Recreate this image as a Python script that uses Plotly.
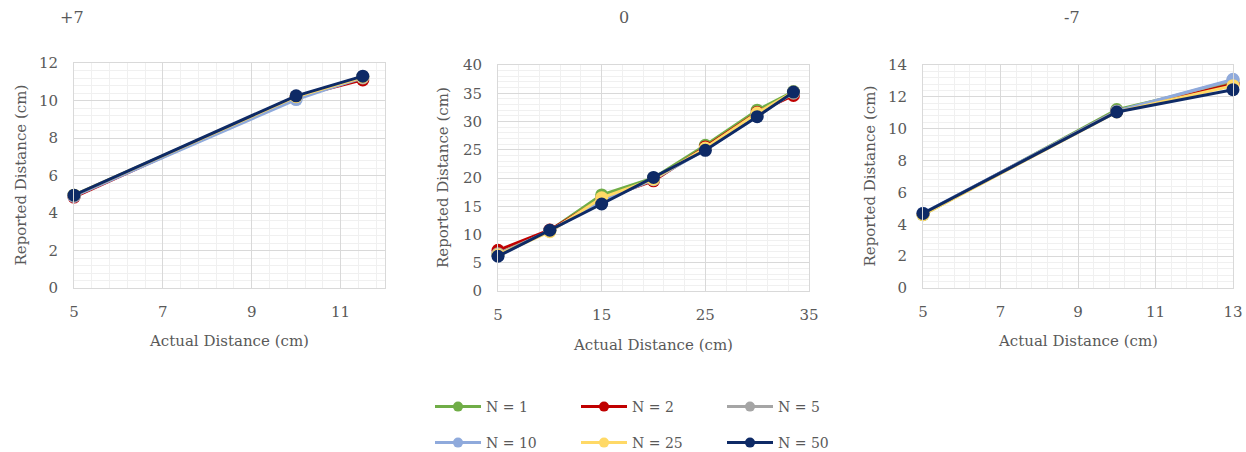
import plotly.graph_objects as go

W, H = 1246, 452

series_names = ["N = 1", "N = 2", "N = 5", "N = 10", "N = 25", "N = 50"]
series_colors = ["#70AD47", "#C00000", "#A5A5A5", "#8FAADC", "#FFD966", "#0E2A66"]

panel_titles = ["+7", "0", "-7"]

x_plus7 = [5, 10, 11.5]
y_plus7 = [
    [4.95, 10.2, 11.25],
    [4.85, 10.2, 11.1],
    [4.9, 10.15, 11.2],
    [4.9, 10.05, 11.25],
    [4.95, 10.2, 11.25],
    [4.95, 10.25, 11.3],
]

x_zero = [5, 10, 15, 20, 25, 30, 33.5]
y_zero = [
    [6.5, 10.7, 17.0, 20.0, 25.8, 32.0, 35.3],
    [7.2, 10.8, 16.3, 19.5, 25.5, 31.6, 34.6],
    [6.6, 10.6, 16.0, 19.7, 25.2, 31.3, 35.0],
    [6.3, 10.7, 15.8, 19.8, 25.0, 31.0, 35.2],
    [6.4, 10.5, 16.5, 19.8, 25.3, 31.5, 35.2],
    [6.15, 10.75, 15.4, 20.1, 24.9, 30.85, 35.2],
]

x_minus7 = [5, 10, 13]
y_minus7 = [
    [4.6, 11.2, 12.9],
    [4.65, 11.1, 12.8],
    [4.65, 11.1, 13.05],
    [4.7, 11.1, 13.1],
    [4.6, 11.05, 12.7],
    [4.68, 11.05, 12.45],
]

# axis settings per panel: (xrange, xdtick, xminor, yrange, ydtick, yminor)
axes_cfg = [
    ([5, 12], 2, 0.4, [0, 12], 2, 0.4),
    ([5, 35], 10, 2, [0, 40], 5, 1),
    ([5, 13], 2, 0.4, [0, 14], 2, 0.4),
]

# pixel boxes of plot areas (left, right, top, bottom)
boxes = [(74, 385, 63, 288), (498, 809, 65, 291), (923, 1233, 65, 288)]

FONT = "DejaVu Serif"
TXT = "#595959"

fig = go.Figure()
data = [(x_plus7, y_plus7), (x_zero, y_zero), (x_minus7, y_minus7)]
for p, (xs, ys) in enumerate(data):
    ax = "" if p == 0 else str(p + 1)
    for i, yv in enumerate(ys):
        fig.add_trace(go.Scatter(
            x=xs, y=yv, mode="lines+markers", name=series_names[i],
            line=dict(color=series_colors[i], width=3),
            marker=dict(color=series_colors[i], size=13),
            xaxis="x" + ax, yaxis="y" + ax, showlegend=False, hoverinfo="skip",
            cliponaxis=False,
        ))

# legend entries
for i, nm in enumerate(series_names):
    fig.add_trace(go.Scatter(
        x=[None], y=[None], mode="lines+markers", name=nm,
        line=dict(color=series_colors[i], width=3),
        marker=dict(color=series_colors[i], size=10),
        legend="legend" if i < 3 else "legend2",
    ))

layout = dict(
    width=W, height=H, margin=dict(l=0, r=0, t=0, b=0, autoexpand=False),
    paper_bgcolor="white", plot_bgcolor="white",
    font=dict(family=FONT, color=TXT, size=15),
)
annotations = []
for p, (cfg, box) in enumerate(zip(axes_cfg, boxes)):
    xr, xd, xm, yr, yd, ym = cfg
    l, r, t, b = box
    sfx = "" if p == 0 else str(p + 1)
    layout["xaxis" + sfx] = dict(
        domain=[l / W, r / W], range=xr, tick0=5, dtick=xd,
        anchor="y" + sfx, showgrid=True, gridcolor="#D9D9D9", gridwidth=1,
        minor=dict(dtick=xm, tick0=5, showgrid=True, gridcolor="#F0F0F0", gridwidth=1),
        showline=True, linecolor="#D9D9D9", mirror=True, zeroline=False,
        ticks="", ticklabelstandoff=10, tickfont=dict(size=15, color=TXT),
    )
    layout["yaxis" + sfx] = dict(
        domain=[1 - b / H, 1 - t / H], range=yr, dtick=yd,
        anchor="x" + sfx, showgrid=True, gridcolor="#D9D9D9", gridwidth=1,
        minor=dict(dtick=ym, showgrid=True, gridcolor="#F0F0F0", gridwidth=1),
        showline=True, linecolor="#D9D9D9", mirror=True, zeroline=False,
        ticks="", ticklabelstandoff=12, tickfont=dict(size=15, color=TXT),
    )
    annotations.append(dict(
        text="Reported Distance (cm)", xref="paper", yref="paper",
        x=[20, 443, 869][p] / W, y=1 - (t + b) / 2 / H, textangle=-90,
        showarrow=False, xanchor="center", yanchor="middle",
        font=dict(size=15, color=TXT),
    ))
    annotations.append(dict(
        text="Actual Distance (cm)", xref="paper", yref="paper",
        x=[229, 653, 1078][p] / W, y=1 - [341, 345, 341][p] / H,
        showarrow=False, xanchor="center", yanchor="middle",
        font=dict(size=15, color=TXT),
    ))
    annotations.append(dict(
        text=panel_titles[p], xref="paper", yref="paper",
        x=[72, 624, 1072][p] / W, y=1 - 18 / H,
        showarrow=False, xanchor="center", yanchor="middle",
        font=dict(size=16, color=TXT),
    ))
layout["annotations"] = annotations

leg_common = dict(orientation="h", entrywidth=85, entrywidthmode="pixels",
                  itemwidth=46, font=dict(size=14, color=TXT),
                  bgcolor="rgba(0,0,0,0)", xanchor="left", yanchor="middle",
                  traceorder="normal")
layout["legend"] = dict(leg_common, x=430 / W, y=1 - 407 / H)
layout["legend2"] = dict(leg_common, x=430 / W, y=1 - 443 / H)

fig.update_layout(**layout)
fig.write_html(
    "out.html",
    config={"displayModeBar": False},
    post_script="document.body.style.margin='0';document.body.style.overflow='hidden';",
)
